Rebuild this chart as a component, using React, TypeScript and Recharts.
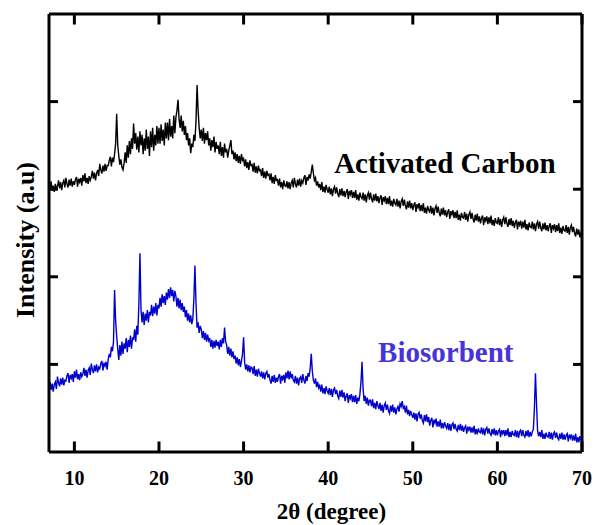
import { LineChart, Line, XAxis, YAxis, ReferenceDot, ReferenceLine } from "recharts";

// 2θ scan grid: 7° to 70° in 0.125° steps
const THETA_START = 7;
const THETA_STEP = 0.125;
const X_MIN = 7;
const X_MAX = 70;
const Y_MIN = 0;
const Y_MAX = 5;
const xTicks = [10, 20, 30, 40, 50, 60, 70];
const yTicks = [1, 2, 3, 4];

// Activated carbon intensity (offset, a.u.), one row per degree
const carbon = [
  3.07, 3.00, 3.09, 2.98, 3.04, 2.97, 3.06, 3.01,
  3.03, 3.10, 3.01, 3.08, 2.99, 3.07, 3.10, 3.02,
  3.13, 3.06, 3.02, 3.11, 3.04, 3.12, 3.03, 3.09,
  3.05, 3.11, 3.14, 3.03, 3.12, 3.08, 3.13, 3.04,
  3.16, 3.09, 3.18, 3.07, 3.13, 3.06, 3.15, 3.10,
  3.14, 3.21, 3.12, 3.19, 3.10, 3.18, 3.22, 3.15,
  3.29, 3.22, 3.18, 3.27, 3.20, 3.29, 3.21, 3.27,
  3.27, 3.33, 3.37, 3.26, 3.36, 3.31, 3.40, 3.52,
  3.86, 3.50, 3.38, 3.28, 3.34, 3.25, 3.22, 3.30,
  3.42, 3.30, 3.50, 3.36, 3.55, 3.40, 3.58, 3.46,
  3.75, 3.52, 3.64, 3.45, 3.60, 3.42, 3.66, 3.50,
  3.62, 3.40, 3.58, 3.44, 3.68, 3.46, 3.60, 3.38,
  3.66, 3.48, 3.70, 3.44, 3.62, 3.50, 3.72, 3.52,
  3.70, 3.52, 3.74, 3.55, 3.68, 3.50, 3.76, 3.58,
  3.76, 3.56, 3.80, 3.60, 3.72, 3.58, 3.84, 3.64,
  3.82, 3.90, 4.02, 3.80, 3.70, 3.84, 3.66, 3.78,
  3.62, 3.72, 3.56, 3.64, 3.50, 3.58, 3.41, 3.52,
  3.48, 3.62, 3.55, 3.78, 4.19, 3.90, 3.70, 3.58,
  3.68, 3.55, 3.70, 3.52, 3.64, 3.56, 3.66, 3.50,
  3.58, 3.44, 3.56, 3.48, 3.60, 3.42, 3.54, 3.46,
  3.50, 3.40, 3.54, 3.38, 3.48, 3.36, 3.52, 3.42,
  3.46, 3.36, 3.44, 3.50, 3.56, 3.40, 3.44, 3.34,
  3.42, 3.32, 3.40, 3.30, 3.38, 3.29, 3.40, 3.33,
  3.35, 3.26, 3.34, 3.24, 3.31, 3.22, 3.33, 3.27,
  3.28, 3.20, 3.30, 3.19, 3.26, 3.18, 3.27, 3.21,
  3.22, 3.15, 3.24, 3.13, 3.20, 3.12, 3.21, 3.16,
  3.17, 3.10, 3.18, 3.07, 3.14, 3.06, 3.16, 3.10,
  3.11, 3.04, 3.12, 3.02, 3.08, 3.00, 3.10, 3.04,
  3.03, 3.09, 3.01, 3.08, 3.00, 3.07, 3.10, 3.02,
  3.13, 3.06, 3.02, 3.11, 3.04, 3.12, 3.03, 3.10,
  3.07, 3.13, 3.16, 3.05, 3.14, 3.10, 3.17, 3.12,
  3.20, 3.28, 3.18, 3.10, 3.13, 3.04, 3.09, 3.02,
  3.06, 2.99, 3.08, 2.97, 3.03, 2.96, 3.05, 3.00,
  2.96, 3.03, 2.94, 3.01, 2.92, 3.00, 3.03, 2.95,
  3.02, 2.95, 2.91, 3.00, 2.93, 3.01, 2.92, 2.98,
  2.91, 2.97, 3.00, 2.89, 2.98, 2.94, 2.99, 2.90,
  2.97, 2.90, 2.99, 2.88, 2.94, 2.87, 2.96, 2.91,
  2.89, 2.96, 2.87, 2.94, 2.85, 2.93, 2.96, 2.88,
  2.96, 2.89, 2.85, 2.94, 2.87, 2.95, 2.86, 2.92,
  2.84, 2.90, 2.93, 2.82, 2.91, 2.87, 2.92, 2.83,
  2.90, 2.83, 2.92, 2.81, 2.87, 2.80, 2.89, 2.84,
  2.82, 2.89, 2.80, 2.87, 2.78, 2.86, 2.89, 2.81,
  2.88, 2.81, 2.77, 2.86, 2.79, 2.87, 2.78, 2.84,
  2.76, 2.82, 2.85, 2.74, 2.83, 2.79, 2.84, 2.75,
  2.82, 2.75, 2.84, 2.73, 2.79, 2.72, 2.81, 2.76,
  2.74, 2.81, 2.72, 2.79, 2.70, 2.78, 2.81, 2.73,
  2.80, 2.73, 2.69, 2.78, 2.71, 2.79, 2.70, 2.76,
  2.68, 2.74, 2.77, 2.66, 2.75, 2.71, 2.76, 2.67,
  2.74, 2.67, 2.76, 2.65, 2.71, 2.64, 2.73, 2.68,
  2.67, 2.74, 2.65, 2.72, 2.63, 2.71, 2.74, 2.66,
  2.73, 2.66, 2.62, 2.71, 2.64, 2.72, 2.63, 2.69,
  2.61, 2.67, 2.70, 2.59, 2.68, 2.64, 2.69, 2.60,
  2.68, 2.61, 2.70, 2.59, 2.65, 2.58, 2.67, 2.62,
  2.61, 2.68, 2.59, 2.66, 2.57, 2.65, 2.68, 2.60,
  2.68, 2.61, 2.57, 2.66, 2.59, 2.67, 2.58, 2.64,
  2.56, 2.62, 2.65, 2.54, 2.63, 2.59, 2.64, 2.55,
  2.63, 2.56, 2.65, 2.54, 2.60, 2.53, 2.62, 2.57,
  2.56, 2.63, 2.54, 2.61, 2.52, 2.60, 2.63, 2.55,
  2.63, 2.56, 2.52, 2.61, 2.54, 2.62, 2.53, 2.59,
  2.52, 2.58, 2.61, 2.50, 2.59, 2.55, 2.60, 2.51,
  2.59, 2.52, 2.61, 2.50, 2.56, 2.49, 2.58, 2.53,
  2.52, 2.59, 2.50, 2.57, 2.48, 2.56, 2.59, 2.51,
  2.57, 2.50, 2.46, 2.55, 2.48, 2.54, 2.45, 2.50,
  2.47,
];

// Biosorbent intensity (a.u.), same grid
const biosorbent = [
  0.73, 0.80, 0.71, 0.78, 0.69, 0.77, 0.80, 0.72,
  0.86, 0.79, 0.75, 0.84, 0.77, 0.85, 0.76, 0.82,
  0.81, 0.87, 0.90, 0.79, 0.88, 0.84, 0.89, 0.80,
  0.92, 0.85, 0.94, 0.83, 0.89, 0.82, 0.91, 0.86,
  0.89, 0.96, 0.87, 0.94, 0.85, 0.93, 0.96, 0.88,
  1.01, 0.94, 0.90, 0.99, 0.92, 1.00, 0.91, 0.97,
  0.95, 1.01, 1.04, 0.93, 1.02, 0.98, 1.03, 0.94,
  1.06, 1.12, 1.08, 1.20, 1.15, 1.26, 1.85, 1.50,
  1.32, 1.18, 1.05, 1.22, 1.10, 1.26, 1.12, 1.24,
  1.18, 1.30, 1.14, 1.28, 1.20, 1.33, 1.18, 1.31,
  1.28, 1.40, 1.26, 1.44, 1.34, 1.70, 2.27, 1.62,
  1.48, 1.60, 1.45, 1.58, 1.50, 1.62, 1.48, 1.60,
  1.56, 1.68, 1.55, 1.66, 1.58, 1.70, 1.56, 1.68,
  1.64, 1.76, 1.66, 1.80, 1.70, 1.78, 1.68, 1.82,
  1.74, 1.86, 1.76, 1.88, 1.78, 1.85, 1.72, 1.84,
  1.78, 1.66, 1.76, 1.64, 1.74, 1.62, 1.70, 1.60,
  1.66, 1.54, 1.62, 1.50, 1.58, 1.48, 1.56, 1.46,
  1.52, 1.75, 2.13, 1.70, 1.42, 1.48, 1.36, 1.44,
  1.40, 1.30, 1.38, 1.28, 1.36, 1.26, 1.34, 1.27,
  1.30, 1.20, 1.28, 1.18, 1.27, 1.19, 1.28, 1.21,
  1.26, 1.17, 1.28, 1.20, 1.30, 1.24, 1.42, 1.26,
  1.22, 1.12, 1.20, 1.10, 1.18, 1.08, 1.15, 1.06,
  1.10, 1.01, 1.08, 0.99, 1.06, 0.97, 1.04, 1.12,
  1.31, 1.02, 0.94, 1.00, 0.92, 0.99, 0.91, 0.97,
  0.96, 0.89, 0.98, 0.87, 0.94, 0.86, 0.95, 0.90,
  0.86, 0.92, 0.84, 0.91, 0.83, 0.90, 0.92, 0.85,
  0.89, 0.82, 0.78, 0.87, 0.80, 0.88, 0.79, 0.85,
  0.80, 0.86, 0.89, 0.78, 0.87, 0.83, 0.88, 0.79,
  0.91, 0.84, 0.93, 0.83, 0.92, 0.84, 0.89, 0.82,
  0.80, 0.87, 0.78, 0.85, 0.76, 0.84, 0.86, 0.79,
  0.89, 0.82, 0.78, 0.87, 0.81, 0.90, 0.86, 0.96,
  1.12, 0.92, 0.82, 0.78, 0.84, 0.74, 0.80, 0.73,
  0.76, 0.69, 0.77, 0.67, 0.73, 0.66, 0.75, 0.70,
  0.67, 0.73, 0.65, 0.72, 0.63, 0.71, 0.73, 0.66,
  0.71, 0.64, 0.61, 0.70, 0.63, 0.71, 0.62, 0.68,
  0.58, 0.64, 0.67, 0.56, 0.65, 0.61, 0.66, 0.57,
  0.64, 0.57, 0.65, 0.55, 0.62, 0.58, 0.66, 0.80,
  1.03, 0.72, 0.58, 0.64, 0.55, 0.62, 0.53, 0.59,
  0.59, 0.52, 0.60, 0.50, 0.56, 0.49, 0.58, 0.53,
  0.49, 0.56, 0.47, 0.54, 0.45, 0.53, 0.56, 0.48,
  0.54, 0.47, 0.44, 0.53, 0.46, 0.54, 0.45, 0.51,
  0.43, 0.49, 0.52, 0.46, 0.55, 0.52, 0.58, 0.50,
  0.52, 0.45, 0.53, 0.43, 0.48, 0.41, 0.47, 0.43,
  0.39, 0.45, 0.37, 0.44, 0.35, 0.43, 0.45, 0.38,
  0.43, 0.36, 0.33, 0.42, 0.35, 0.43, 0.34, 0.40,
  0.30, 0.36, 0.39, 0.28, 0.37, 0.33, 0.38, 0.29,
  0.35, 0.29, 0.37, 0.27, 0.33, 0.27, 0.34, 0.30,
  0.27, 0.33, 0.25, 0.32, 0.24, 0.31, 0.33, 0.26,
  0.32, 0.26, 0.24, 0.31, 0.25, 0.32, 0.24, 0.30,
  0.23, 0.28, 0.30, 0.21, 0.29, 0.25, 0.29, 0.22,
  0.28, 0.22, 0.30, 0.20, 0.26, 0.20, 0.27, 0.23,
  0.22, 0.28, 0.20, 0.27, 0.19, 0.26, 0.28, 0.21,
  0.27, 0.21, 0.19, 0.26, 0.20, 0.27, 0.19, 0.25,
  0.19, 0.24, 0.26, 0.17, 0.25, 0.21, 0.25, 0.18,
  0.25, 0.19, 0.27, 0.17, 0.23, 0.17, 0.24, 0.20,
  0.19, 0.25, 0.17, 0.24, 0.16, 0.23, 0.25, 0.18,
  0.25, 0.19, 0.17, 0.24, 0.18, 0.25, 0.17, 0.23,
  0.18, 0.23, 0.26, 0.50, 0.90, 0.55, 0.24, 0.18,
  0.23, 0.17, 0.25, 0.15, 0.21, 0.15, 0.22, 0.18,
  0.17, 0.23, 0.15, 0.22, 0.14, 0.21, 0.23, 0.16,
  0.22, 0.16, 0.14, 0.21, 0.15, 0.22, 0.14, 0.20,
  0.14, 0.19, 0.21, 0.12, 0.20, 0.16, 0.20, 0.13,
  0.19, 0.13, 0.21, 0.11, 0.17, 0.11, 0.18, 0.14,
  0.15,
];

const data = carbon.map((c, i) => ({
  theta: THETA_START + i * THETA_STEP,
  carbon: c,
  bio: biosorbent[i],
}));

const FONT = "'Liberation Serif', 'Times New Roman', serif";
const axisLine = { stroke: "#000", strokeWidth: 3 };
// inward tick lengths in data units (~10px each way)
const X_TICK_LEN = 0.12;
const Y_TICK_LEN = 1.06;

const BottomLabel = ({ x, y, payload }: any) => (
  <text
    x={x}
    y={y + 33}
    textAnchor="middle"
    fill="#000"
    fontSize={20}
    fontWeight="bold"
    fontFamily={FONT}
  >
    {payload.value}
  </text>
);

export default function App() {
  return (
    <div style={{ position: "absolute", left: 0, top: 0, fontFamily: FONT }}>
      <LineChart
        width={594}
        height={525}
        data={data}
        margin={{ top: 14, right: 12, left: 0, bottom: 0 }}
      >
        <XAxis
          dataKey="theta"
          type="number"
          domain={[X_MIN, X_MAX]}
          ticks={xTicks}
          allowDataOverflow
          height={73}
          axisLine={axisLine}
          tickLine={false}
          tickSize={0}
          tickMargin={0}
          tick={BottomLabel}
          label={{
            value: "2θ (degree)",
            position: "insideBottom",
            offset: 6,
            dx: 16,
            fill: "#000",
            fontSize: 23,
            fontWeight: "bold",
            fontFamily: FONT,
          }}
        />
        <YAxis
          type="number"
          domain={[Y_MIN, Y_MAX]}
          ticks={yTicks}
          allowDataOverflow
          width={49}
          axisLine={axisLine}
          tickLine={false}
          tick={false}
          label={{
            value: "Intensity (a.u)",
            angle: -90,
            position: "center",
            dy: 7,
            fill: "#000",
            fontSize: 26,
            fontWeight: "bold",
            fontFamily: FONT,
          }}
        />

        {/* top and right frame */}
        <ReferenceLine y={Y_MAX} stroke="#000" strokeWidth={3} />
        <ReferenceLine x={X_MAX} stroke="#000" strokeWidth={3} />

        {/* inward ticks on all four sides */}
        {xTicks.map((t) => (
          <ReferenceLine
            key={`b${t}`}
            segment={[{ x: t, y: Y_MIN }, { x: t, y: Y_MIN + X_TICK_LEN }]}
            stroke="#000"
            strokeWidth={3}
          />
        ))}
        {xTicks.map((t) => (
          <ReferenceLine
            key={`t${t}`}
            segment={[{ x: t, y: Y_MAX }, { x: t, y: Y_MAX - X_TICK_LEN }]}
            stroke="#000"
            strokeWidth={3}
          />
        ))}
        {yTicks.map((t) => (
          <ReferenceLine
            key={`l${t}`}
            segment={[{ x: X_MIN, y: t }, { x: X_MIN + Y_TICK_LEN, y: t }]}
            stroke="#000"
            strokeWidth={3}
          />
        ))}
        {yTicks.map((t) => (
          <ReferenceLine
            key={`r${t}`}
            segment={[{ x: X_MAX, y: t }, { x: X_MAX - Y_TICK_LEN, y: t }]}
            stroke="#000"
            strokeWidth={3}
          />
        ))}

        <Line
          dataKey="carbon"
          stroke="#000"
          strokeWidth={1.4}
          dot={false}
          isAnimationActive={false}
        />
        <Line
          dataKey="bio"
          stroke="#0000cc"
          strokeWidth={1.4}
          dot={false}
          isAnimationActive={false}
        />
        <ReferenceDot
          x={53.8}
          y={3.3}
          r={0}
          label={{
            value: "Activated Carbon",
            position: "center",
            fill: "#000",
            fontSize: 29,
            fontWeight: "bold",
            fontFamily: FONT,
          }}
        />
        <ReferenceDot
          x={53.9}
          y={1.145}
          r={0}
          label={{
            value: "Biosorbent",
            position: "center",
            fill: "#4733d8",
            fontSize: 29,
            fontWeight: "bold",
            fontFamily: FONT,
          }}
        />
      </LineChart>
    </div>
  );
}
